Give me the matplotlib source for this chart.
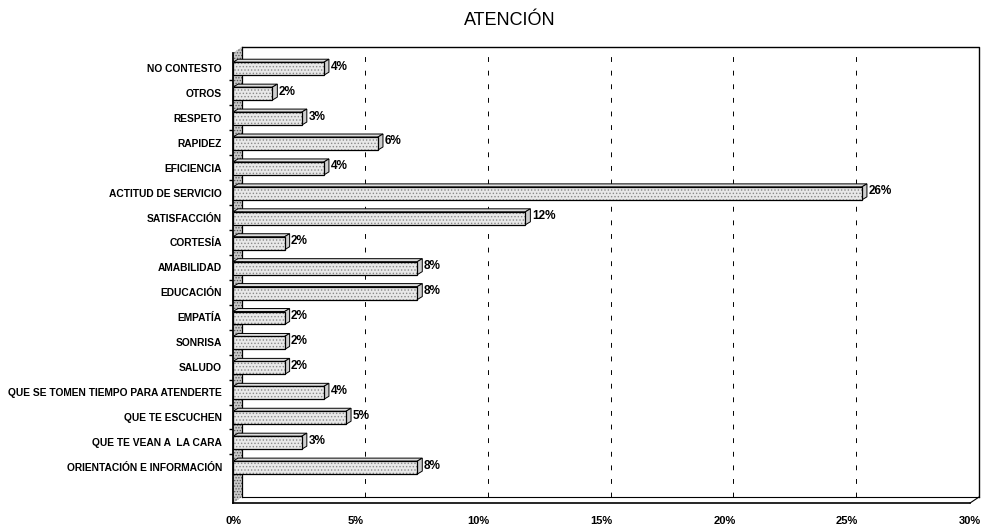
import numpy as np
import matplotlib.pyplot as plt
from matplotlib.patches import Polygon

plt.rcParams['font.family'] = ['Liberation Sans', 'DejaVu Sans']
plt.rcParams['hatch.linewidth'] = 0.6

# respuestas sobre la atencion recibida (porcentaje de menciones)
categorias = ['NO CONTESTO', 'OTROS', 'RESPETO', 'RAPIDEZ', 'EFICIENCIA',
              'ACTITUD DE SERVICIO', 'SATISFACCIÓN', 'CORTESÍA', 'AMABILIDAD',
              'EDUCACIÓN', 'EMPATÍA', 'SONRISA', 'SALUDO',
              'QUE SE TOMEN TIEMPO PARA ATENDERTE', 'QUE TE ESCUCHEN',
              'QUE TE VEAN A  LA CARA', 'ORIENTACIÓN E INFORMACIÓN']
porcentajes = [3.7, 1.6, 2.8, 5.9, 3.7, 25.6, 11.9, 2.1, 7.5,
               7.5, 2.1, 2.1, 2.1, 3.7, 4.6, 2.8, 7.5]
marcas_x = [0, 5, 10, 15, 20, 25, 30]

fig = plt.figure(figsize=(9.87, 5.32), dpi=100)
ax = fig.add_axes([0.2361, 0.0545, 0.7467, 0.8459])

y = np.arange(len(categorias))
y_abajo, y_arriba = 17.45, -0.6
ax.set_xlim(0, 30)
ax.set_ylim(y_abajo, y_arriba)

# profundidad del efecto 3D (en pixeles -> unidades de datos)
caja = ax.get_window_extent()
px_x = 30 / caja.width
px_y = (y_abajo - y_arriba) / caja.height
dx, dy = 9 * px_x, -6 * px_y

# pared del fondo, piso y pared izquierda
ax.plot([dx, 30 + dx, 30 + dx], [y_arriba + dy, y_arriba + dy, y_abajo + dy],
        color='black', lw=1.0, clip_on=False, zorder=1)
ax.plot([dx, 30 + dx], [y_abajo + dy, y_abajo + dy], color='black', lw=0.8,
        clip_on=False, zorder=1)
ax.plot([30, 30 + dx], [y_abajo, y_abajo + dy], color='black', lw=0.8,
        clip_on=False, zorder=1)
pared = Polygon([(0, y_arriba), (0, y_abajo), (dx, y_abajo + dy), (dx, y_arriba + dy)],
                closed=True, facecolor='#c8c8c8', edgecolor='#555555', hatch='......',
                lw=0, clip_on=False, zorder=2)
ax.add_patch(pared)
ax.plot([dx, dx], [y_arriba + dy, y_abajo + dy], color='black', lw=0.9,
        clip_on=False, zorder=2)

for x in marcas_x[1:-1]:
    ax.plot([x + dx, x + dx], [y_abajo + dy, y_arriba + dy], color='black',
            lw=0.7, ls=(0, (5, 9)), zorder=1)

# barras con cara frontal, superior y lateral
alto = 0.52
bx, by = 5 * px_x, -3 * px_y
for yi, v in zip(y, porcentajes):
    sup = yi - alto / 2 + 0.03
    inf = yi + alto / 2 + 0.03
    techo = Polygon([(0, sup), (v, sup), (v + bx, sup + by), (bx, sup + by)],
                    closed=True, facecolor='#dcdcdc', edgecolor='black', lw=0.7, zorder=3)
    ax.add_patch(techo)
    lado = Polygon([(v, sup), (v, inf), (v + bx, inf + by), (v + bx, sup + by)],
                   closed=True, facecolor='#cfcfcf', edgecolor='black', lw=0.7, zorder=3)
    ax.add_patch(lado)
    ax.add_patch(Polygon([(0, sup), (v, sup), (v, inf), (0, inf)], closed=True,
                         facecolor='#e8e8e8', edgecolor='#8a8a8a', hatch='.....',
                         lw=0, zorder=4))
    ax.add_patch(Polygon([(0, sup), (v, sup), (v, inf), (0, inf)], closed=True,
                         fill=False, edgecolor='black', lw=0.9, zorder=5))
    ax.text(v + bx + 0.06, yi - 0.05, f'{v:.0f}%', va='center', ha='left',
            fontsize=8.5, fontweight='semibold', zorder=6)

ax.set_yticks(y)
ax.set_yticklabels(categorias, fontsize=7.4, fontweight='bold')
ax.set_yticks(y[:-1] + 0.5, minor=True)
ax.tick_params(axis='y', which='major', length=0, pad=8)
ax.tick_params(axis='y', which='minor', length=3, width=1, direction='out')

ax.set_xticks(marcas_x)
ax.set_xticklabels([f'{x}%' for x in marcas_x], fontsize=8, fontweight='bold')
ax.tick_params(axis='x', length=0, pad=9)

for lado_eje in ['top', 'right']:
    ax.spines[lado_eje].set_visible(False)
ax.spines['left'].set_linewidth(1.3)
ax.spines['bottom'].set_linewidth(1.2)

fig.text(0.517, 0.962, 'ATENCIÓN', ha='center', va='center', fontsize=13)

fig.savefig('out.png', dpi=100)
